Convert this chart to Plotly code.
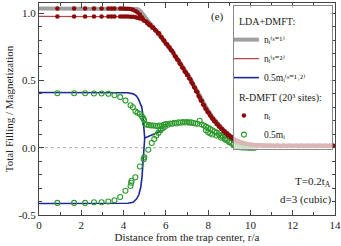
import plotly.graph_objects as go

# ---------------- data ----------------
# LDA+DMFT lines
r_n1 = [0.0, 4.3, 4.5, 4.65, 4.8, 4.95, 5.1, 5.25, 5.4, 5.6, 5.8, 6.0, 6.2, 6.4, 6.6, 6.8, 7.0, 7.2, 7.4, 7.6,
        7.8, 8.0, 8.2, 8.4, 8.6, 8.8, 9.0, 9.2, 9.4, 9.6, 9.8, 10.0, 10.5, 11.0, 12.0, 13.0, 14.0]
n1 = [1.035, 1.035, 1.034, 1.03, 1.015, 0.985, 0.95, 0.92, 0.895, 0.862, 0.822, 0.782, 0.738, 0.693, 0.648,
      0.6, 0.553, 0.503, 0.443, 0.382, 0.326, 0.275, 0.229, 0.188, 0.152, 0.121, 0.092, 0.069, 0.051, 0.038,
      0.029, 0.023, 0.018, 0.016, 0.015, 0.015, 0.015]
r_n2 = [0.0, 4.6, 4.8, 4.95, 5.1, 5.25, 5.4, 5.6, 5.8, 6.0, 6.2, 6.4, 6.6, 6.8, 7.0, 7.2, 7.4, 7.6,
        7.8, 8.0, 8.2, 8.4, 8.6, 8.8, 9.0, 9.2, 9.4, 9.6, 9.8, 10.0, 10.5, 11.0, 12.0, 13.0, 14.0]
n2 = [0.975, 0.975, 0.972, 0.962, 0.942, 0.915, 0.89, 0.856, 0.815, 0.775, 0.73, 0.685, 0.64,
      0.592, 0.545, 0.495, 0.432, 0.372, 0.316, 0.266, 0.221, 0.181, 0.146, 0.116, 0.087, 0.066, 0.049, 0.036,
      0.028, 0.022, 0.017, 0.015, 0.015, 0.015, 0.015]
r_m = [0.0, 3.8, 4.2, 4.46, 4.6, 4.7, 4.8, 4.86, 4.9, 4.93, 4.96, 4.98, 5.0, None,
       0.0, 3.8, 4.2, 4.45, 4.62, 4.72, 4.81, 4.87, 4.9, 4.93, 4.95, 4.98, 5.0, 5.85]
m_half = [0.41, 0.41, 0.408, 0.40, 0.385, 0.363, 0.33, 0.30, 0.26, 0.20, 0.13, 0.09, 0.072, None,
          -0.415, -0.415, -0.413, -0.405, -0.38, -0.35, -0.296, -0.22, -0.147, -0.07, 0.0, 0.05, 0.072, 0.13]

# R-DMFT site data: filling n_i
r_ni = [0.87, 0.87, 1.66, 1.66, 2.18, 2.18, 2.60, 2.60, 2.96, 2.96, 3.28, 3.28, 3.43, 3.43, 3.57, 3.57,
        3.84, 3.84, 3.97, 3.97, 4.09, 4.09, 4.21, 4.21, 4.33, 4.33, 4.44, 4.44, 4.56, 4.56, 4.66, 4.66,
        4.77, 4.77,
        4.87, 4.92, 4.97, 5.07, 5.12, 5.17, 5.22, 5.27, 5.36, 5.41, 5.50, 5.55, 5.63, 5.68, 5.76, 5.81,
        5.89, 5.93, 6.00, 6.06, 6.12, 6.18, 6.23, 6.30, 6.36, 6.42, 6.48, 6.53, 6.60, 6.65, 6.71, 6.77,
        6.83, 6.89, 6.95, 7.00, 7.05, 7.10, 7.16, 7.21, 7.27, 7.33, 7.38, 7.43, 7.49, 7.54, 7.60, 7.65,
        7.70, 7.76, 7.81, 7.87, 7.92, 7.97, 8.03, 8.08, 8.13, 8.19, 8.24, 8.29, 8.35, 8.40, 8.46, 8.51,
        8.56, 8.62, 8.67, 8.72, 8.78, 8.83, 8.89, 8.94, 9.00, 9.05, 9.10, 9.16, 9.21, 9.26, 9.32, 9.37,
        9.43, 9.48, 9.54, 9.60, 9.66, 9.72, 9.78, 9.85, 9.92, 10.00,
        10.07, 10.14, 10.21, 10.28, 10.35, 10.42, 10.49, 10.56, 10.63, 10.70, 10.77, 10.84, 10.91, 10.98,
        11.05, 11.12, 11.19, 11.26, 11.33, 11.40, 11.47, 11.54, 11.61, 11.68, 11.75, 11.82, 11.89, 11.96,
        12.03, 12.10, 12.17, 12.24, 12.31, 12.38, 12.45, 12.52, 12.59, 12.66, 12.73, 12.80, 12.87, 12.94,
        13.01, 13.08, 13.15, 13.22, 13.29, 13.36, 13.43, 13.50, 13.57, 13.64, 13.71, 13.78, 13.85, 13.92]
n_i = [1.035, 0.975, 1.035, 0.975, 1.035, 0.975, 1.035, 0.975, 1.035, 0.975, 1.035, 0.975, 1.035, 0.975,
       1.035, 0.975, 1.034, 0.975, 1.034, 0.975, 1.033, 0.974, 1.032, 0.974, 1.03, 0.973, 1.025, 0.972,
       1.015, 0.97, 1.005, 0.965, 0.99, 0.96,
       0.968, 0.952, 0.944, 0.938, 0.925, 0.922, 0.91, 0.912, 0.892, 0.893, 0.872, 0.868, 0.848, 0.85,
       0.826, 0.818, 0.798, 0.795, 0.772, 0.768, 0.752, 0.744, 0.727, 0.718, 0.703, 0.682, 0.673, 0.655,
       0.648, 0.626, 0.618, 0.596, 0.588, 0.566, 0.558, 0.541, 0.538, 0.516, 0.508, 0.487, 0.474, 0.451,
       0.444, 0.42, 0.413, 0.386, 0.373, 0.351, 0.348, 0.321, 0.314, 0.291, 0.284, 0.266, 0.259, 0.242,
       0.234, 0.216, 0.213, 0.196, 0.193, 0.176, 0.173, 0.157, 0.155, 0.139, 0.138, 0.124, 0.122, 0.108,
       0.107, 0.093, 0.091, 0.079, 0.08, 0.067, 0.067, 0.056, 0.056, 0.047, 0.047, 0.039, 0.04, 0.034,
       0.034, 0.029, 0.03, 0.026, 0.025, 0.022,
       0.021, 0.018, 0.02, 0.017, 0.019, 0.016, 0.018, 0.015, 0.017, 0.014, 0.016, 0.015, 0.017, 0.014,
       0.016, 0.013, 0.015, 0.016, 0.014, 0.015, 0.013, 0.016, 0.014, 0.015, 0.013, 0.016, 0.014, 0.015,
       0.013, 0.015, 0.016, 0.013, 0.015, 0.014, 0.016, 0.013, 0.015, 0.014, 0.016, 0.013, 0.015, 0.014,
       0.016, 0.013, 0.015, 0.014, 0.016, 0.013, 0.015, 0.014, 0.016, 0.013, 0.015, 0.014, 0.016, 0.014]

# R-DMFT site data: half magnetization 0.5 m_i
r_mi = [0.87, 1.66, 2.18, 2.60, 2.96, 3.28, 3.57, 3.84, 4.09, 4.33, 4.44, 4.56, 4.66, 4.77, 4.87, 4.93,
        4.97, 5.01,
        0.87, 1.66, 2.18, 2.60, 2.96, 3.28, 3.57, 3.84, 4.09, 4.33, 4.36, 4.38, 4.56, 4.77, 4.95, 4.98,
        5.17,
        5.33, 5.45, 5.55, 5.65, 5.75, 5.85, 5.95,
        5.10, 5.20, 5.30, 5.40, 5.50, 5.60, 5.70, 5.80, 5.90, 6.00, 6.10, 6.20, 6.30, 6.40, 6.50, 6.60,
        6.70, 6.80, 6.90, 7.00, 7.10, 7.20, 7.30, 7.40, 7.50, 7.60, 7.70, 7.80, 7.90, 8.00, 8.10, 8.20,
        8.30, 8.40, 8.50, 8.60, 8.70, 8.80, 8.90, 9.00, 9.10, 9.20, 9.30, 9.40, 9.50,
        7.90, 8.00, 8.10, 8.20, 8.40, 8.60, 8.80, 9.00, 9.20,
        9.60, 9.70, 9.80, 9.90, 10.00, 10.10, 10.20]
m_i = [0.405, 0.405, 0.405, 0.403, 0.403, 0.40, 0.39, 0.376, 0.35, 0.315, 0.30, 0.27, 0.26, 0.25,
       0.232, 0.218, 0.205, 0.178,
       -0.41, -0.41, -0.41, -0.405, -0.405, -0.40, -0.39, -0.366, -0.32, -0.284, -0.26, -0.245, -0.22,
       -0.14, -0.085, -0.072, -0.015,
       0.035, 0.065, 0.09, 0.11, 0.13, 0.145, 0.155,
       0.17, 0.168, 0.165, 0.165, 0.163, 0.16, 0.165, 0.16, 0.17, 0.175, 0.17, 0.18, 0.178, 0.185, 0.18,
       0.188, 0.185, 0.19, 0.187, 0.19, 0.186, 0.188, 0.183, 0.18, 0.178, 0.2, 0.172, 0.165, 0.155,
       0.148, 0.138, 0.13, 0.12, 0.112, 0.1, 0.09, 0.08, 0.068, 0.055, 0.045, 0.035, 0.025, 0.015,
       0.008, 0.004,
       0.13, 0.115, 0.105, 0.098, 0.09, 0.075, 0.06, 0.04, 0.02,
       0.002, 0.001, 0.001, 0.0, 0.0, 0.0, 0.0]

x_ticks = [0, 2, 4, 6, 8, 10, 12, 14]
y_ticks = [-0.5, 0.0, 0.5, 1.0]
y_tick_text = ["-0.5", "0.0", "0.5", "1.0"]

FONT = "Liberation Serif, Times New Roman, DejaVu Serif, serif"
TXT = "#222"
LEG = 9.5

fig = go.Figure()

fig.add_trace(go.Scatter(
    x=r_n1, y=n1, mode="lines", line=dict(color="#a0a0a0", width=4),
    name="nᵢ⁽ˢ⁼¹⁾", legendgroup="lda",
    legendgrouptitle=dict(text="LDA+DMFT:", font=dict(family=FONT, size=10, color=TXT)),
    legendrank=1))
fig.add_trace(go.Scatter(
    x=r_n2, y=n2, mode="lines", line=dict(color="#b5474a", width=1.3),
    name="nᵢ⁽ˢ⁼²⁾", legendgroup="lda", legendrank=2))
fig.add_trace(go.Scatter(
    x=r_m, y=m_half, mode="lines", line=dict(color="#1c2a94", width=1.6), connectgaps=False,
    name="0.5mᵢ⁽ˢ⁼¹˒²⁾", legendgroup="lda", legendrank=3))
fig.add_trace(go.Scatter(
    x=r_mi, y=m_i, mode="markers",
    marker=dict(symbol="circle-open", size=5, color="#2e9a2e", line=dict(width=1.1, color="#2e9a2e")),
    name="0.5mᵢ", legendgroup="rdmft", legendrank=5))
fig.add_trace(go.Scatter(
    x=r_ni, y=n_i, mode="markers",
    marker=dict(symbol="circle", size=4.5, color="#8b0a0a"),
    name="nᵢ", legendgroup="rdmft",
    legendgrouptitle=dict(text="R-DMFT (20³ sites):", font=dict(family=FONT, size=10, color=TXT)),
    legendrank=4))

# zero reference line
fig.add_hline(y=0, line=dict(color="#aaaaaa", width=1, dash="dot"), layer="below")

fig.add_annotation(x=8.45, y=0.975, text="(e)", showarrow=False,
                   font=dict(family=FONT, size=11, color=TXT))
fig.add_annotation(x=13.9, y=-0.255, text="T=0.2t<sub>A</sub>", showarrow=False, xanchor="right",
                   font=dict(family=FONT, size=11, color=TXT))
fig.add_annotation(x=13.9, y=-0.385, text="d=3 (cubic)", showarrow=False, xanchor="right",
                   font=dict(family=FONT, size=11, color=TXT))

axis_common = dict(showline=True, linecolor="#444", linewidth=1, mirror="ticks", ticks="inside",
                   ticklen=5, tickcolor="#444", showgrid=False, zeroline=False, automargin=False,
                   tickfont=dict(family=FONT, size=11, color=TXT))

fig.update_xaxes(range=[0, 14], tickvals=x_ticks,
                 minor=dict(dtick=1, ticks="inside", ticklen=3, tickcolor="#444"),
                 title=dict(text="Distance from the trap center, r/a", standoff=0,
                            font=dict(family=FONT, size=11, color=TXT)),
                 **axis_common)
fig.update_yaxes(range=[-0.5, 1.075], tickvals=y_ticks, ticktext=y_tick_text,
                 minor=dict(dtick=0.1, ticks="inside", ticklen=3, tickcolor="#444"),
                 title=dict(text="Total Filling / Magnetization", standoff=2,
                            font=dict(family=FONT, size=11, color=TXT)),
                 **axis_common)

fig.update_layout(
    width=341, height=246,
    margin=dict(l=39, r=6, t=3, b=31, autoexpand=False),
    plot_bgcolor="white", paper_bgcolor="white",
    font=dict(family=FONT, size=11, color=TXT),
    legend=dict(x=0.993, y=0.99, xanchor="right", yanchor="top",
                bgcolor="rgba(255,255,255,0.7)", bordercolor="#888", borderwidth=1,
                font=dict(family=FONT, size=LEG, color=TXT),
                traceorder="grouped", tracegroupgap=0, itemwidth=30,
                indentation=-10),
)

fig.write_html("out.html", config={"displayModeBar": False},
               post_script="document.body.style.margin='0px';document.body.style.padding='0px';")
